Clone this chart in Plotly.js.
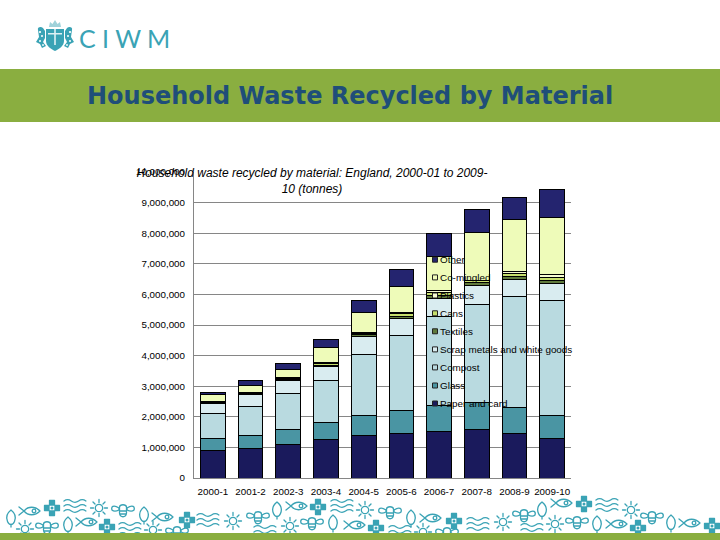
<!DOCTYPE html>
<html>
<head>
<meta charset="utf-8">
<script src="https://cdn.plot.ly/plotly-3.0.1.min.js"></script>
<style>html,body{margin:0;padding:0;background:#fff}#chart{width:720px;height:540px}</style>
</head>
<body>
<div id="chart"></div>
<script>
const years = ["2000-1","2001-2","2002-3","2003-4","2004-5","2005-6","2006-7","2007-8","2008-9","2009-10"];
const seriesNames = ["Paper and card","Glass","Compost","Scrap metals and white goods","Textiles","Cans","Plastics","Co-mingled","Other"];
const seriesColors = ["#1a1a5c","#4a95a3","#b9dae0","#d9ecf0","#5f7a3c","#c6df6c","#f6fcd0","#eefbb9","#24246f"];
const paper    = [913000,967000,1098000,1260000,1390000,1465000,1530000,1595000,1465000,1300000];
const glass    = [370000,413000,489000,555000,650000,750000,840000,880000,845000,750000];
const compost  = [827000,957000,1173000,1370000,1990000,2445000,2900000,3195000,3625000,3750000];
const scrap    = [310000,380000,414000,445000,610000,555000,580000,610000,545000,545000];
const textiles = [30000,30000,40000,50000,50000,60000,120000,110000,110000,110000];
const cans     = [30000,30000,40000,50000,40000,100000,100000,50000,95000,95000];
const plastics = [27000,23000,26000,40000,30000,45000,70000,30000,75000,100000];
const comingled= [221000,210000,250000,490000,640000,830000,1100000,1550000,1675000,1860000];
const other    = [62000,175000,210000,270000,400000,560000,740000,750000,725000,910000];
const seriesValues = [paper,glass,compost,scrap,textiles,cans,plastics,comingled,other];
const yTickVals = [0,1000000,2000000,3000000,4000000,5000000,6000000,7000000,8000000,9000000,10000000];
const yTickText = ["0","1,000,000","2,000,000","3,000,000","4,000,000","5,000,000","6,000,000","7,000,000","8,000,000","9,000,000","10,000,000"];
const chartTitle = "Household waste recycled by material: England, 2000-01 to 2009-<br>10 (tonnes)";
const slideTitle = "Household Waste Recycled by Material";
const legendOrder = [8,7,6,5,4,3,2,1,0];

const W=720,H=540,L=194,R=571,T=172,B=478;
const px=x=>(x-L)/(R-L), py=y=>(B-y)/(B-T);
const TEAL="#3aa3b5", GREEN="#8aae40";

// Footer ornament icons: [kind, centre x, centre y]
const icons=[["leaf",11,518],["fish",30,511],["cross",52,508],["waves",75,506],["sun",99,508],["bee",123,510],["leaf",144,515],["fish",163,517],
["sun",25,529],["bee",47,527],["leaf",68,525],["fish",87,522],["cross",107,527],["waves",130,529],["sun",153,530],["bee",177,532],
["cross",187,520],["waves",208,520],["sun",233,521],["bee",258,517],["leaf",277,510],["fish",297,506],["cross",318,507],["waves",342,506],
["sun",290,526],["bee",312,523],["leaf",333,523],["fish",355,525],["waves",265,532],
["sun",365,510],["bee",390,512],["leaf",411,518],["fish",431,518],["cross",454,521],["waves",478,524],["sun",503,522],["bee",524,515],
["cross",376,528],["waves",400,532],["sun",423,532],["bee",447,533],["waves",532,530],
["leaf",542,510],["fish",562,503],["cross",584,504],["waves",607,505],["sun",631,510],["bee",652,517],["leaf",671,523],["fish",690,523],["cross",712,526],
["sun",555,524],["bee",577,522],["leaf",597,524],["fish",617,524],["cross",638,528]];
const art={
 leaf:`<path d="M0,-8C4.5,-4.5 5,0 3.5,3.5C2.5,6 1,6.5 0,6.5C-1,6.5 -2.5,6 -3.5,3.5C-5,0 -4.5,-4.5 0,-8ZM0,6.5V9"/>`,
 fish:`<path d="M-6,0C-2,-5 5,-5 10,0C5,5 -2,5 -6,0ZM-6,0L-11,-4M-6,0L-11,4"/><circle cx="4" cy="0" r="1.8"/>`,
 cross:`<path d="M-2.5,-7.5H2.5V-3H-2.5ZM-2.5,3H2.5V7.5H-2.5ZM-7.5,-2.5H-3V2.5H-7.5ZM3,-2.5H7.5V2.5H3Z" fill="${TEAL}"/><circle r="1.5" fill="${TEAL}" stroke="none"/>`,
 waves:`<path d="M-11,-5q3.6,-2.6 7.3,0t7.3,0t7.3,0M-11,0q3.6,-2.6 7.3,0t7.3,0t7.3,0M-11,5q3.6,-2.6 7.3,0t7.3,0t7.3,0"/>`,
 sun:`<circle r="3.7"/><path d="M0,-8.5V-5.5M0,8.5V5.5M-8.5,0H-5.5M8.5,0H5.5M-6,-6L-4,-4M6,6L4,4M-6,6L-4,4M6,-6L4,-4"/>`,
 bee:`<path d="M-4,-2C-10,-6 -12,-3 -11,0C-9,2 -6,1 -4,0ZM4,-2C10,-6 12,-3 11,0C9,2 6,1 4,0Z"/><path d="M-3.5,-3C-3,-6 3,-6 3.5,-3V3C3,8 -3,8 -3.5,3ZM-3.5,1H3.5M-3,4H3"/>`
};
const iconSvg=icons.map(([k,x,y])=>`<g transform="translate(${x},${y})">${art[k]}</g>`).join("");
const crest=`<g fill="${TEAL}" stroke="none">
<path d="M49,27L50,22L52.5,24L55,20L57.5,24L60,22L61,27Z" fill="#9fd2da"/>
<path d="M46,29H64V41C64,46 59,49 55,51C51,49 46,46 46,41Z"/>
<path d="M48,33H62V34.5H48ZM54.2,29H55.8V45H54.2Z" fill="#dff1f4"/>
<path d="M38,30C37,27 41,26 43,28L45,31V38L43,42L46,46L42,48L40,44L36,42L39,37Z"/>
<path d="M72,30C73,27 69,26 67,28L65,31V38L67,42L64,46L68,48L70,44L74,42L71,37Z"/>
<g fill="#fff"><circle cx="40" cy="32" r="1.1"/><circle cx="70" cy="32" r="1.1"/><circle cx="42" cy="36" r="1"/><circle cx="68" cy="36" r="1"/><circle cx="40" cy="41" r="1"/><circle cx="70" cy="41" r="1"/><circle cx="43" cy="45" r=".9"/><circle cx="67" cy="45" r=".9"/></g>
</g>`;
const decoSvg=`<svg xmlns="http://www.w3.org/2000/svg" width="${W}" height="${H}" viewBox="0 0 ${W} ${H}"><g fill="none" stroke="${TEAL}" stroke-width="1.3" stroke-linejoin="round" stroke-linecap="round">${iconSvg}</g>${crest}</svg>`;

const traces=seriesNames.map((n,i)=>({type:"bar",name:n,x:years,y:seriesValues[i],
  marker:{color:seriesColors[i],line:{color:"#000",width:1}},showlegend:false,hoverinfo:"skip"}));

const legendY=[259.7,277.4,295.5,313.3,331.3,349.4,367.4,385.5,403.5];
const shapes=[
 {type:"rect",xref:"paper",yref:"paper",x0:px(0),x1:px(W),y0:py(69),y1:py(122),fillcolor:GREEN,line:{width:0},layer:"below"},
 {type:"rect",xref:"paper",yref:"paper",x0:px(0),x1:px(W),y0:py(533),y1:py(H),fillcolor:GREEN,line:{width:0},layer:"below"}
];
const legendText=legendOrder.map((s,i)=>{
  shapes.push({type:"rect",xref:"paper",yref:"paper",x0:px(432.5),x1:px(437.5),y0:py(legendY[i]+2.5),y1:py(legendY[i]-2.5),
    fillcolor:seriesColors[s],line:{color:"#222",width:1},layer:"above"});
  return {text:seriesNames[s],xref:"paper",yref:"paper",x:px(440),y:py(legendY[i]),xanchor:"left",yanchor:"middle",showarrow:false,xshift:-2,
    font:{family:"Liberation Sans",size:9.9,color:"#000"}};
});
const FONT={family:"Liberation Sans",size:9.8,color:"#000"};
const layout={
 width:W,height:H,autosize:false,showlegend:false,barmode:"stack",bargap:0.345,
 margin:{l:L,r:W-R,t:T,b:H-B,pad:0},paper_bgcolor:"rgba(0,0,0,0)",plot_bgcolor:"rgba(0,0,0,0)",font:FONT,
 title:{text:chartTitle,x:312/W,xanchor:"center",xref:"container",yref:"container",y:1-177/H,yanchor:"top",
   font:{family:"Liberation Sans",size:12,color:"#000",style:"italic"}},
 xaxis:{type:"category",categoryorder:"array",categoryarray:years,showline:true,linecolor:"#868686",linewidth:1,
   ticks:"",showgrid:false,tickfont:FONT,tickangle:0,fixedrange:true,ticklabelstandoff:4},
 yaxis:{range:[0,10000000],tickvals:yTickVals,ticktext:yTickText,showline:true,linecolor:"#868686",linewidth:1,
   ticks:"",showgrid:true,gridcolor:"#868686",gridwidth:1,zeroline:false,tickfont:FONT,fixedrange:true,ticklabelstandoff:6},
 shapes:shapes,
 annotations:[
  {text:"<b>"+slideTitle+"</b>",xref:"paper",yref:"paper",x:px(349.5),y:py(96),xanchor:"center",yanchor:"middle",showarrow:false,
   font:{family:"DejaVu Sans",size:24,color:"#1f4e79"}},
  {text:"C I W M",xref:"paper",yref:"paper",x:px(77),y:py(37.5),xanchor:"left",yanchor:"middle",showarrow:false,
   font:{family:"Lato",size:25,color:TEAL}},
  ...legendText
 ],
 images:[{source:"data:image/svg+xml;charset=utf-8,"+encodeURIComponent(decoSvg),xref:"paper",yref:"paper",
   x:px(0),y:py(0),sizex:W/(R-L),sizey:H/(B-T),xanchor:"left",yanchor:"top",sizing:"stretch",layer:"below"}]
};
Plotly.newPlot("chart",traces,layout,{displayModeBar:false,responsive:false});
</script>
</body>
</html>
